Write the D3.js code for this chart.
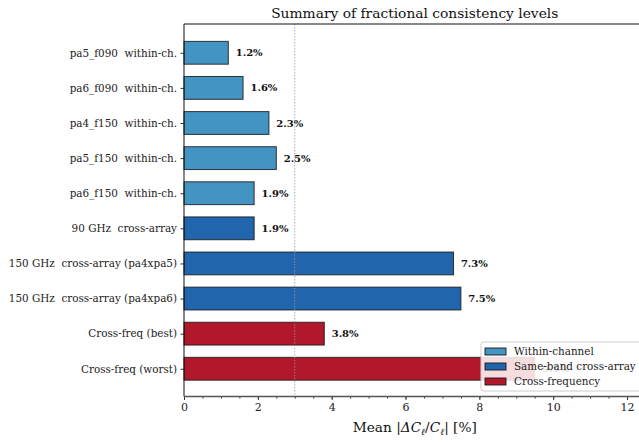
<!DOCTYPE html>
<html>
<head>
<meta charset="utf-8">
<script src="https://cdn.jsdelivr.net/npm/d3@7"></script>
<style>
  html, body { margin: 0; padding: 0; background: #fff; overflow: hidden; }
  svg { display: block; font-family: "DejaVu Serif", serif; }
  text { white-space: pre; font-family: "DejaVu Serif", serif; }
</style>
</head>
<body>
<svg id="chart" width="639" height="443"></svg>
<script>
// Mean fractional residual per comparison, in percent
const categories = [
  "pa5_f090  within-ch.",
  "pa6_f090  within-ch.",
  "pa4_f150  within-ch.",
  "pa5_f150  within-ch.",
  "pa6_f150  within-ch.",
  "90 GHz  cross-array",
  "150 GHz  cross-array (pa4xpa5)",
  "150 GHz  cross-array (pa4xpa6)",
  "Cross-freq (best)",
  "Cross-freq (worst)"
];
const values = [1.2, 1.6, 2.3, 2.5, 1.9, 1.9, 7.3, 7.5, 3.8, 9.5];
const groups = ["within", "within", "within", "within", "within",
                "same", "same", "same", "cross", "cross"];
const groupNames = ["within", "same", "cross"];
const groupLabels = ["Within-channel", "Same-band cross-array", "Cross-frequency"];
const groupColors = ["#4393c3", "#2166ac", "#b2182b"];
const xTicks = [0, 2, 4, 6, 8, 10, 12];
const threshold = 3;

const FONT = "DejaVu Serif";
const svg = d3.select("#chart");
const plotL = 184, plotR = 645.5, plotT = 24, plotB = 396.5;

const x = d3.scaleLinear().domain([0, 12.5]).range([plotL, plotR]);
const y = d3.scaleLinear().domain([-0.82, 9.79]).range([plotT, plotB]);
const color = d3.scaleOrdinal().domain(groupNames).range(groupColors);
const step = y(1) - y(0);
const barH = step * 0.65;

const data = categories.map((c, i) => ({ name: c, value: values[i], group: groups[i], i }));

// Bars
svg.append("g").selectAll("rect").data(data).join("rect")
  .attr("x", x(0))
  .attr("y", d => y(d.i) - barH / 2)
  .attr("width", d => x(d.value) - x(0))
  .attr("height", barH)
  .attr("fill", d => color(d.group))
  .attr("stroke", "#1a1a1a")
  .attr("stroke-opacity", 0.85)
  .attr("stroke-width", 1);

// Value annotations
svg.append("g").attr("font-family", FONT).selectAll("text").data(data).join("text")
  .attr("x", d => x(d.value + 0.2))
  .attr("y", d => y(d.i))
  .attr("dy", "0.35em")
  .attr("font-size", 10)
  .attr("font-weight", "bold")
  .attr("fill", "#111")
  .text(d => d.value.toFixed(1) + "%");

// Reference line at 3%
svg.append("line")
  .attr("x1", x(threshold)).attr("x2", x(threshold))
  .attr("y1", plotT).attr("y2", plotB)
  .attr("stroke", "#999")
  .attr("stroke-opacity", 0.8)
  .attr("stroke-width", 1)
  .attr("stroke-dasharray", "1.5,1.5");

// Y axis
const yAxis = d3.axisLeft(y)
  .tickValues(d3.range(categories.length))
  .tickFormat(i => categories[i])
  .tickSize(3.5)
  .tickPadding(3.5);
const gy = svg.append("g").attr("transform", `translate(${plotL},0)`).call(yAxis)
  .attr("font-family", FONT).attr("font-size", 10.4);
gy.select(".domain").remove();
gy.selectAll("text").attr("fill", "#222");
gy.selectAll("line").attr("stroke", "#333");

// X axis: minor and major ticks
const gxMinor = svg.append("g").attr("transform", `translate(0,${plotB})`)
  .call(d3.axisBottom(x).tickValues(d3.range(0, 12.51, 0.5)).tickSize(2).tickFormat(""));
gxMinor.select(".domain").remove();
gxMinor.selectAll("line").attr("stroke", "#333");

const gx = svg.append("g").attr("transform", `translate(0,${plotB})`)
  .call(d3.axisBottom(x).tickValues(xTicks).tickSize(3.5).tickPadding(3.5).tickFormat(d3.format("d")))
  .attr("font-family", FONT).attr("font-size", 11);
gx.select(".domain").remove();
gx.selectAll("text").attr("fill", "#222");
gx.selectAll("line").attr("stroke", "#333");

// Spines
svg.append("line").attr("x1", plotL).attr("x2", plotL).attr("y1", plotT).attr("y2", plotB)
  .attr("stroke", "#111").attr("stroke-width", 1);
svg.append("line").attr("x1", plotL).attr("x2", plotR).attr("y1", plotT).attr("y2", plotT)
  .attr("stroke", "#111").attr("stroke-width", 1);
svg.append("line").attr("x1", plotL).attr("x2", plotR).attr("y1", plotB).attr("y2", plotB)
  .attr("stroke", "#555").attr("stroke-width", 1.4);
svg.append("line").attr("x1", plotR).attr("x2", plotR).attr("y1", plotT).attr("y2", plotB)
  .attr("stroke", "#111").attr("stroke-width", 1);

// Title
svg.append("text")
  .attr("x", (plotL + plotR) / 2).attr("y", 18)
  .attr("text-anchor", "middle")
  .attr("font-family", FONT)
  .attr("font-size", 13.8)
  .attr("fill", "#111")
  .text("Summary of fractional consistency levels");

// X label
const xl = svg.append("text")
  .attr("x", (plotL + plotR) / 2).attr("y", 432)
  .attr("text-anchor", "middle")
  .attr("font-family", FONT)
  .attr("font-size", 13.7)
  .attr("fill", "#111");
xl.append("tspan").text("Mean |");
xl.append("tspan").attr("font-style", "italic").text("ΔC");
xl.append("tspan").attr("font-style", "italic").attr("font-size", 9.5).attr("dy", 3).text("ℓ");
xl.append("tspan").attr("dy", -3).text("/");
xl.append("tspan").attr("font-style", "italic").text("C");
xl.append("tspan").attr("font-style", "italic").attr("font-size", 9.5).attr("dy", 3).text("ℓ");
xl.append("tspan").attr("dy", -3).text("| [%]");

// Legend
const lg = svg.append("g").attr("transform", "translate(481,342)").attr("font-family", FONT);
lg.append("rect")
  .attr("width", 170).attr("height", 49)
  .attr("rx", 2.5)
  .attr("fill", "#fff").attr("fill-opacity", 0.85)
  .attr("stroke", "#ccc").attr("stroke-width", 1);
groupLabels.forEach((lab, k) => {
  const row = lg.append("g").attr("transform", `translate(0,${9.5 + k * 15})`);
  row.append("rect")
    .attr("x", 4).attr("y", -3.5).attr("width", 21).attr("height", 7)
    .attr("fill", groupColors[k]).attr("stroke", "#1a1a1a").attr("stroke-width", 0.9);
  row.append("text")
    .attr("x", 33).attr("dy", "0.35em")
    .attr("font-size", 10.4)
    .attr("fill", "#222")
    .text(lab);
});
</script>
</body>
</html>
